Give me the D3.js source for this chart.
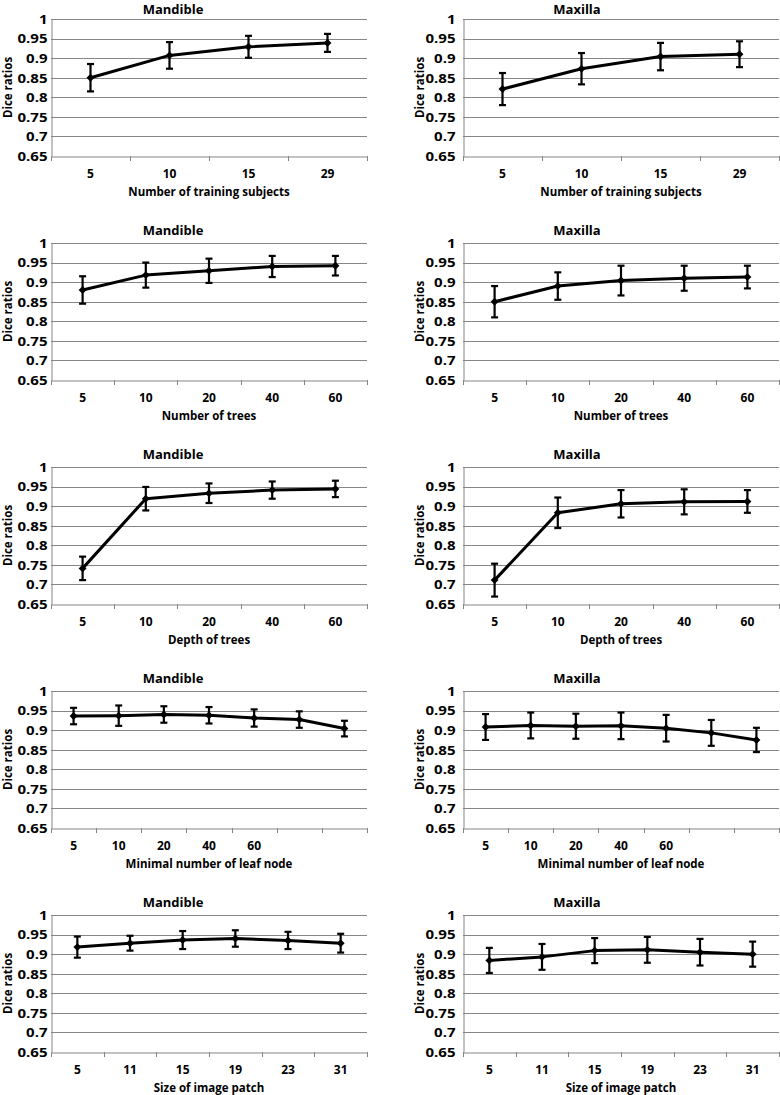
<!DOCTYPE html>
<html>
<head>
<meta charset="utf-8">
<script src="https://cdn.jsdelivr.net/npm/d3@7"></script>
<style>
  html, body { margin: 0; padding: 0; background: #fff; }
  svg text { font-family: "Open Sans", "DejaVu Sans", sans-serif; font-weight: 700; fill: #000; }
</style>
</head>
<body>
<svg id="chart" width="780" height="1095"></svg>
<script>
// ---------- data ----------
const yTickValues = [0.65, 0.7, 0.75, 0.8, 0.85, 0.9, 0.95, 1];
const yTickLabels = ["0.65", "0.7", "0.75", "0.8", "0.85", "0.9", "0.95", "1"];
const yAxisTitle = "Dice ratios";
const columnTitles = ["Mandible", "Maxilla"];
const xAxisTitles = ["Number of training subjects", "Number of trees", "Depth of trees", "Minimal number of leaf node", "Size of image patch"];

const subjectsCats = ["5", "10", "15", "29"];
const treesCats = ["5", "10", "20", "40", "60"];
const depthCats = ["5", "10", "20", "40", "60"];
const leafCats = ["5", "10", "20", "40", "60", "", ""];
const patchCats = ["5", "11", "15", "19", "23", "31"];

const mandibleSubjects = [0.850, 0.907, 0.929, 0.939];
const mandibleSubjectsErr = [0.035, 0.034, 0.028, 0.023];
const maxillaSubjects = [0.821, 0.873, 0.904, 0.910];
const maxillaSubjectsErr = [0.041, 0.040, 0.035, 0.033];

const mandibleTrees = [0.880, 0.918, 0.929, 0.940, 0.942];
const mandibleTreesErr = [0.035, 0.032, 0.031, 0.027, 0.025];
const maxillaTrees = [0.850, 0.890, 0.904, 0.910, 0.913];
const maxillaTreesErr = [0.040, 0.035, 0.038, 0.032, 0.029];

const mandibleDepth = [0.741, 0.919, 0.933, 0.941, 0.944];
const mandibleDepthErr = [0.030, 0.030, 0.025, 0.022, 0.021];
const maxillaDepth = [0.711, 0.883, 0.906, 0.911, 0.912];
const maxillaDepthErr = [0.042, 0.039, 0.035, 0.032, 0.029];

const mandibleLeaf = [0.936, 0.937, 0.940, 0.938, 0.931, 0.927, 0.904];
const mandibleLeafErr = [0.021, 0.026, 0.021, 0.021, 0.022, 0.021, 0.020];
const maxillaLeaf = [0.908, 0.912, 0.910, 0.911, 0.905, 0.893, 0.875];
const maxillaLeafErr = [0.033, 0.033, 0.032, 0.034, 0.034, 0.033, 0.031];

const mandiblePatch = [0.918, 0.928, 0.936, 0.940, 0.935, 0.928];
const mandiblePatchErr = [0.027, 0.019, 0.023, 0.021, 0.022, 0.024];
const maxillaPatch = [0.884, 0.893, 0.909, 0.911, 0.905, 0.900];
const maxillaPatchErr = [0.032, 0.033, 0.032, 0.033, 0.034, 0.032];

const rows = [
  { cats: subjectsCats, series: [[mandibleSubjects, mandibleSubjectsErr], [maxillaSubjects, maxillaSubjectsErr]] },
  { cats: treesCats, series: [[mandibleTrees, mandibleTreesErr], [maxillaTrees, maxillaTreesErr]] },
  { cats: depthCats, series: [[mandibleDepth, mandibleDepthErr], [maxillaDepth, maxillaDepthErr]] },
  { cats: leafCats, series: [[mandibleLeaf, mandibleLeafErr], [maxillaLeaf, maxillaLeafErr]] },
  { cats: patchCats, series: [[mandiblePatch, mandiblePatchErr], [maxillaPatch, maxillaPatchErr]] }
];

// ---------- layout ----------
const colLeft = [51, 463];
const colRight = [367, 779];
const colTitleX = [173, 577];
const colYLabelGap = [4, 8];
const colYTitleX = [12, 424];
const rowTop0 = 19, rowStep = 224, plotH = 137;
const gridColor = "#868686";

const svg = d3.select("#chart");

rows.forEach((row, r) => {
  const top = rowTop0 + r * rowStep;
  const bottom = top + plotH;
  [0, 1].forEach(c => {
    const [vals, errs] = row.series[c];
    const left = colLeft[c], right = colRight[c];
    const g = svg.append("g");

    const x = d3.scaleBand().domain(d3.range(row.cats.length)).range([left, right]);
    const y = d3.scaleLinear().domain([0.65, 1]).range([bottom, top]);

    // gridlines
    g.append("g").selectAll("line").data(yTickValues.filter(v => v > 0.65)).join("line")
      .attr("x1", left).attr("x2", right)
      .attr("y1", d => Math.round(y(d)) + 0.5).attr("y2", d => Math.round(y(d)) + 0.5)
      .attr("stroke", gridColor).attr("stroke-width", 1);

    // y axis (line only, labels)
    const yAxis = d3.axisLeft(y).tickValues(yTickValues).tickSize(0)
      .tickFormat((d, i) => yTickLabels[i]).tickPadding(colYLabelGap[c]);
    const ya = g.append("g").attr("transform", `translate(${left + 0.5},0)`).call(yAxis);
    ya.select(".domain").attr("stroke", gridColor).attr("stroke-width", 1);
    ya.selectAll(".tick text")
      .attr("font-size", 12)
      .attr("font-family", null)
      .attr("dy", "0.36em")
      .each(function () {
        const t = d3.select(this);
        const tx = +t.attr("x");
        t.attr("transform", `translate(${tx},0) scale(1.25,1)`).attr("x", 0);
      });

    // x axis
    const xAxis = d3.axisBottom(x).tickSize(0).tickFormat(i => row.cats[i]).tickPadding(13);
    const xa = g.append("g").attr("transform", `translate(0,${Math.round(bottom) + 0.5})`).call(xAxis);
    xa.select(".domain").attr("stroke", gridColor).attr("stroke-width", 1);
    xa.selectAll(".tick text").attr("font-size", 12).attr("font-family", null);
    // boundary tick marks
    const bounds = d3.range(row.cats.length + 1).map(i => left + i * x.bandwidth());
    g.append("g").selectAll("line").data(bounds).join("line")
      .attr("x1", d => Math.round(d) + 0.5).attr("x2", d => Math.round(d) + 0.5)
      .attr("y1", Math.round(bottom)).attr("y2", Math.round(bottom) + 5)
      .attr("stroke", gridColor).attr("stroke-width", 1);

    // titles
    g.append("text").attr("x", colTitleX[c]).attr("y", Math.max(top - 8, 14))
      .attr("text-anchor", "middle").attr("font-size", 13).text(columnTitles[c]);
    g.append("text").attr("x", (left + right) / 2).attr("y", bottom + 40)
      .attr("text-anchor", "middle").attr("font-size", 11.5).text(xAxisTitles[r]);
    g.append("text").attr("transform", `translate(${colYTitleX[c]},${(top + bottom) / 2}) rotate(-90)`)
      .attr("text-anchor", "middle").attr("font-size", 11.5).text(yAxisTitle);

    const cx = i => x(i) + x.bandwidth() / 2;
    const pts = vals.map((v, i) => ({ i, v, e: errs[i] }));

    // error bars
    const eb = g.append("g").attr("stroke", "#000").attr("stroke-width", 2.2).attr("fill", "none");
    eb.selectAll("line.v").data(pts).join("line").attr("class", "v")
      .attr("x1", d => cx(d.i)).attr("x2", d => cx(d.i))
      .attr("y1", d => y(d.v + d.e)).attr("y2", d => y(d.v - d.e));
    eb.selectAll("line.t").data(pts).join("line").attr("class", "t")
      .attr("x1", d => cx(d.i) - 3.5).attr("x2", d => cx(d.i) + 3.5)
      .attr("y1", d => y(d.v + d.e)).attr("y2", d => y(d.v + d.e));
    eb.selectAll("line.b").data(pts).join("line").attr("class", "b")
      .attr("x1", d => cx(d.i) - 3.5).attr("x2", d => cx(d.i) + 3.5)
      .attr("y1", d => y(d.v - d.e)).attr("y2", d => y(d.v - d.e));

    // line
    g.append("path").datum(pts)
      .attr("d", d3.line().x(d => cx(d.i)).y(d => y(d.v)))
      .attr("fill", "none").attr("stroke", "#000").attr("stroke-width", 3)
      .attr("stroke-linejoin", "round");

    // markers
    g.append("g").selectAll("path").data(pts).join("path")
      .attr("d", d3.symbol().type(d3.symbolDiamond2).size(40))
      .attr("transform", d => `translate(${cx(d.i)},${y(d.v)})`)
      .attr("fill", "#000");
  });
});
</script>
</body>
</html>
